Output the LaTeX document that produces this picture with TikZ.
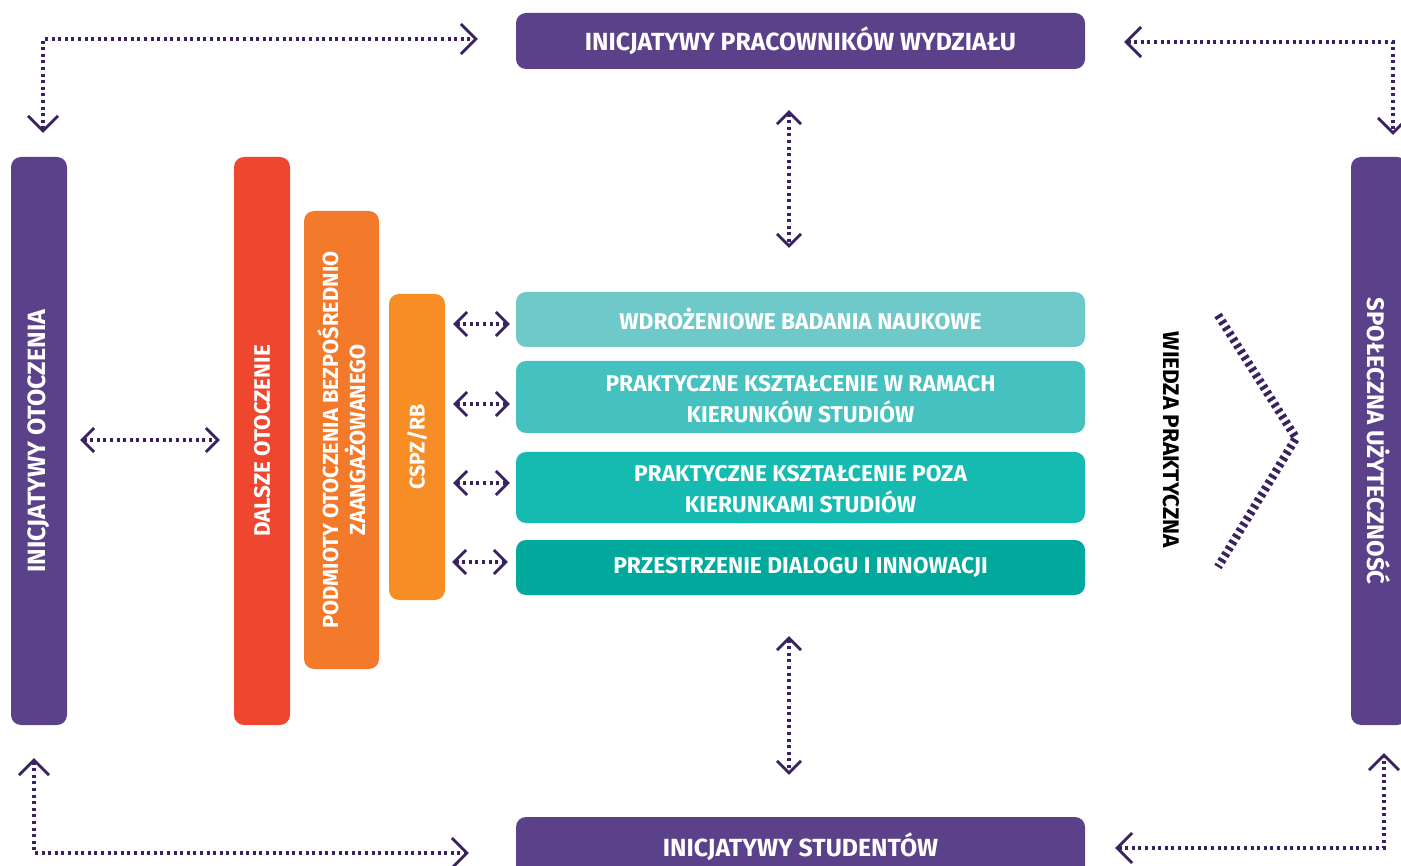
\documentclass[tikz,border=0pt]{standalone}
\usepackage{fontspec}
\setmainfont{Fira Sans}
\usetikzlibrary{arrows.meta}
\definecolor{cpurple}{HTML}{5A4189}
\definecolor{carrow}{HTML}{3A2262}
\definecolor{cred}{HTML}{EE462F}
\definecolor{corange}{HTML}{F37A2B}
\definecolor{corange2}{HTML}{F68E25}
\definecolor{ctealA}{HTML}{70C9C9}
\definecolor{ctealB}{HTML}{45C1BF}
\definecolor{ctealC}{HTML}{15BBB1}
\definecolor{ctealD}{HTML}{00A99B}
\newcommand{\fpurple}{\bfseries\fontsize{24.8}{28}\selectfont}
\newcommand{\fteal}{\bfseries\fontsize{22.8}{28}\selectfont}
\tikzset{
  box/.style={rectangle, rounded corners=10pt, inner sep=0pt, text=white,
    font=\fteal, align=center},
  vlab/.style={rotate=90, text=white, font=\bfseries\fontsize{22.4}{27}\selectfont, align=center},
  dotline/.style={draw=carrow, line width=3.1pt, dash pattern=on 3.1pt off 3.5pt},
  bigarr/.style={dotline, arrows={Straight Barb[length=15pt,width=30pt,line width=2.8pt]-Straight Barb[length=15pt,width=30pt,line width=2.8pt]}},
  smarr/.style={dotline, arrows={Straight Barb[length=12pt,width=24pt,line width=2.8pt]-Straight Barb[length=12pt,width=24pt,line width=2.8pt]}},
}
\begin{document}
\begin{tikzpicture}[x=1pt,y=-1pt]
\useasboundingbox (0,0) rectangle (1401,866);
\begin{scope}
\clip (0,0) rectangle (1401,866);
% main boxes
\node[box, font=\fpurple, fill=cpurple, minimum width=569pt, minimum height=56pt] (top) at (800.5,41) {INICJATYWY PRACOWNIKÓW WYDZIAŁU};
\node[box, fill=cpurple, minimum width=569pt, minimum height=60pt] (bottom) at (800.5,847) {};
\node[text=white, font=\fpurple] (bottomtext) at (800.5,847) {INICJATYWY STUDENTÓW};
\node[box, fill=cpurple, minimum width=56pt, minimum height=568pt,
  label={[vlab, font=\bfseries\fontsize{25}{28}\selectfont]center:INICJATYWY OTOCZENIA}] (left) at (39,441) {};
\node[box, fill=cpurple, minimum width=56pt, minimum height=568pt,
  label={[vlab, rotate=180, font=\bfseries\fontsize{24}{28}\selectfont]center:SPOŁECZNA UŻYTECZNOŚĆ}] (right) at (1379,441) {};
\node[box, fill=cred, minimum width=56pt, minimum height=568pt,
  label={[vlab]center:DALSZE OTOCZENIE}] (red) at (262,441) {};
\node[box, fill=corange, minimum width=75pt, minimum height=458pt,
  label={[vlab, font=\bfseries\fontsize{21.8}{27}\selectfont]center:PODMIOTY OTOCZENIA BEZPOŚREDNIO\\ZAANGAŻOWANEGO}] (orange) at (341.5,440) {};
\node[box, fill=corange2, minimum width=56pt, minimum height=306pt,
  label={[vlab, font=\bfseries\fontsize{21.3}{27}\selectfont]center:CSPZ/RB}] (cspz) at (417,447) {};
% teal boxes
\node[box, fill=ctealA, minimum width=569pt, minimum height=55pt] (t1) at (800.5,319.5) {WDROŻENIOWE BADANIA NAUKOWE};
\node[box, fill=ctealB, minimum width=569pt, minimum height=72pt] (t2) at (800.5,397) {\strut PRAKTYCZNE KSZTAŁCENIE W RAMACH\\KIERUNKÓW STUDIÓW};
\node[box, fill=ctealC, minimum width=569pt, minimum height=71pt] (t3) at (800.5,487.5) {\strut PRAKTYCZNE KSZTAŁCENIE POZA\\KIERUNKAMI STUDIÓW};
\node[box, fill=ctealD, minimum width=569pt, minimum height=55pt] (t4) at (800.5,567.5) {PRZESTRZENIE DIALOGU I INNOWACJI};
% wiedza
\node[rotate=-90, font=\bfseries\fontsize{22.6}{27}\selectfont, text=black] (wiedza) at (1171,440) {WIEDZA PRAKTYCZNA};
\draw[carrow, line width=8.5pt, dash pattern=on 3.4pt off 3.6pt] (1218,315) -- (1296,438) -- (1218,567);
% corner connectors
\draw[bigarr, shorten <=24pt, shorten >=38pt] ([xshift=4pt]left.north) |- ([yshift=2pt]top.west);
\draw[bigarr, shorten <=39pt, shorten >=22pt] ([yshift=-1pt]top.east) -| ([xshift=14pt]right.north);
\draw[bigarr, shorten <=33pt, shorten >=47pt] ([xshift=-5pt]left.south) |- ([yshift=-6pt]bottom.west);
\draw[bigarr, shorten <=30pt, shorten >=28pt] ([yshift=-1pt]bottom.east) -| ([xshift=5pt]right.south);
% vertical connectors
\draw[smarr, shorten <=41pt, shorten >=44pt] ([xshift=-11.5pt]top.south) -- ([xshift=-11.5pt]t1.north);
\draw[smarr, shorten <=41pt, shorten >=42pt] ([xshift=-11.5pt]t4.south) -- ([xshift=-11.5pt]bottom.north);
% horizontal left
\draw[smarr, shorten <=13pt, shorten >=14pt] (left.east |- 0,440) -- (red.west |- 0,440);
% small connectors
\draw[smarr, shorten <=8pt, shorten >=6pt] ([yshift=-4.5pt]cspz.east |- t1.west) -- ([yshift=-4.5pt]t1.west);
\draw[smarr, shorten <=8pt, shorten >=6pt] ([yshift=-7pt]cspz.east |- t2.west) -- ([yshift=-7pt]t2.west);
\draw[smarr, shorten <=8pt, shorten >=6pt] ([yshift=4.5pt]cspz.east |- t3.west) -- ([yshift=4.5pt]t3.west);
\draw[smarr, shorten <=7pt, shorten >=8pt] ([yshift=5.5pt]cspz.east |- t4.west) -- ([yshift=5.5pt]t4.west);
\end{scope}
\end{tikzpicture}
\end{document}
